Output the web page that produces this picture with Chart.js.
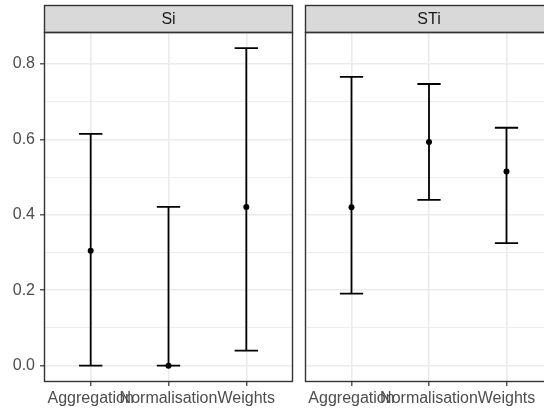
<!DOCTYPE html>
<html>
<head>
<meta charset="utf-8">
<script src="https://cdn.jsdelivr.net/npm/chart.js@4/dist/chart.umd.min.js"></script>
<style>
  html, body { margin: 0; padding: 0; background: #fff; }
  body { width: 544px; height: 410px; overflow: hidden; position: relative; }
  canvas { position: absolute; top: 0; }
</style>
</head>
<body>
<canvas id="chart-si" width="296" height="410" style="left:0px"></canvas>
<canvas id="chart-sti" width="254" height="410" style="left:302px"></canvas>
<script>
// sensitivity indices per uncertain input
var categories = ['Aggregation', 'Normalisation', 'Weights']
var panels = ['Si', 'STi']

var si_mean = [0.305, 0.0, 0.421]
var si_lower = [0.0, 0.0, 0.04]
var si_upper = [0.615, 0.421, 0.842]

var sti_mean = [0.42, 0.593, 0.515]
var sti_lower = [0.191, 0.44, 0.325]
var sti_upper = [0.766, 0.747, 0.631]

var y_ticks = [0, 0.1, 0.2, 0.3, 0.4, 0.5, 0.6, 0.7, 0.8]
var y_labels = [0, 0.2, 0.4, 0.6, 0.8]

var FONT = { family: 'Liberation Sans, Arial, sans-serif', size: 16 }

function isMajor(v) {
  return y_labels.some(function (m) { return Math.abs(m - v) < 1e-9 })
}

// error bars drawn under the points, strip and border on top
var facetPlugin = {
  id: 'facet',
  beforeDatasetsDraw: function (chart) {
    var ctx = chart.ctx
    var xs = chart.scales.x, ys = chart.scales.y
    var bars = chart.options.plugins.facet
    ctx.save()
    ctx.strokeStyle = '#000'
    ctx.lineWidth = 1.8
    for (var i = 0; i < bars.lower.length; i++) {
      var x = xs.getPixelForValue(i + 1)
      var x0 = xs.getPixelForValue(i + 1 - 0.15)
      var x1 = xs.getPixelForValue(i + 1 + 0.15)
      var yl = ys.getPixelForValue(bars.lower[i])
      var yu = ys.getPixelForValue(bars.upper[i])
      ctx.beginPath()
      ctx.moveTo(x, yl); ctx.lineTo(x, yu)
      ctx.moveTo(x0, yl); ctx.lineTo(x1, yl)
      ctx.moveTo(x0, yu); ctx.lineTo(x1, yu)
      ctx.stroke()
    }
    ctx.restore()
  },
  afterDraw: function (chart) {
    var ctx = chart.ctx
    var a = chart.chartArea
    var stripTop = 5
    ctx.save()
    ctx.fillStyle = '#D9D9D9'
    ctx.fillRect(a.left, stripTop, a.right - a.left, a.top - stripTop)
    ctx.strokeStyle = '#333333'
    ctx.lineWidth = 1.4
    ctx.strokeRect(a.left + 0.5, stripTop + 0.5, a.right - a.left - 1, a.top - stripTop)
    ctx.strokeRect(a.left + 0.5, a.top + 0.5, a.right - a.left - 1, a.bottom - a.top - 1)
    ctx.fillStyle = '#1A1A1A'
    ctx.font = '16px ' + FONT.family
    ctx.textAlign = 'center'
    ctx.textBaseline = 'middle'
    ctx.fillText(chart.options.plugins.facet.title, (a.left + a.right) / 2, (stripTop + a.top) / 2 + 1)
    ctx.restore()
  }
}

function makeChart(id, title, mean, lower, upper, showY) {
  var points = []
  for (let i in categories) {
    points.push({ x: parseInt(i) + 1, y: mean[i] })
  }
  return new Chart(document.getElementById(id), {
    type: 'scatter',
    data: {
      datasets: [{
        data: points,
        pointRadius: 3,
        pointHoverRadius: 3,
        backgroundColor: '#000',
        borderWidth: 0
      }]
    },
    options: {
      responsive: false,
      animation: false,
      devicePixelRatio: 1,
      layout: { padding: { top: 32, right: 3, left: showY ? 0 : 1, bottom: 0 } },
      plugins: {
        legend: { display: false },
        tooltip: { enabled: false },
        facet: { title: title, lower: lower, upper: upper }
      },
      scales: {
        x: {
          type: 'linear',
          min: 0.4,
          max: 3.6,
          afterBuildTicks: function (scale) {
            scale.ticks = categories.map(function (c, i) { return { value: i + 1 } })
          },
          afterFit: function (scale) { scale.height = 28 },
          border: { display: false },
          grid: {
            color: '#EBEBEB',
            lineWidth: 1.6,
            drawTicks: true,
            tickLength: 4,
            tickColor: '#333333',
            tickWidth: 1.2
          },
          ticks: {
            autoSkip: false,
            maxRotation: 0,
            padding: 3,
            color: '#4D4D4D',
            font: FONT,
            callback: function (v) { return categories[v - 1] }
          }
        },
        y: {
          type: 'linear',
          min: -0.0432,
          max: 0.8849,
          afterBuildTicks: function (scale) {
            scale.ticks = y_ticks.map(function (v) { return { value: v } })
          },
          afterFit: function (scale) { scale.width = showY ? 44 : 0 },
          border: { display: false },
          grid: {
            color: '#EBEBEB',
            lineWidth: function (c) { return c.tick && isMajor(c.tick.value) ? 1.6 : 0.9 },
            drawTicks: showY,
            tickLength: 4,
            tickColor: function (c) { return c.tick && isMajor(c.tick.value) ? '#333333' : 'rgba(0,0,0,0)' },
            tickWidth: 1.2
          },
          ticks: {
            display: showY,
            padding: 5,
            color: '#4D4D4D',
            font: FONT,
            callback: function (v) { return isMajor(v) ? v.toFixed(1) : '' }
          }
        }
      }
    },
    plugins: [facetPlugin]
  })
}

var chart_si = makeChart('chart-si', panels[0], si_mean, si_lower, si_upper, true)
var chart_sti = makeChart('chart-sti', panels[1], sti_mean, sti_lower, sti_upper, false)
</script>
</body>
</html>
